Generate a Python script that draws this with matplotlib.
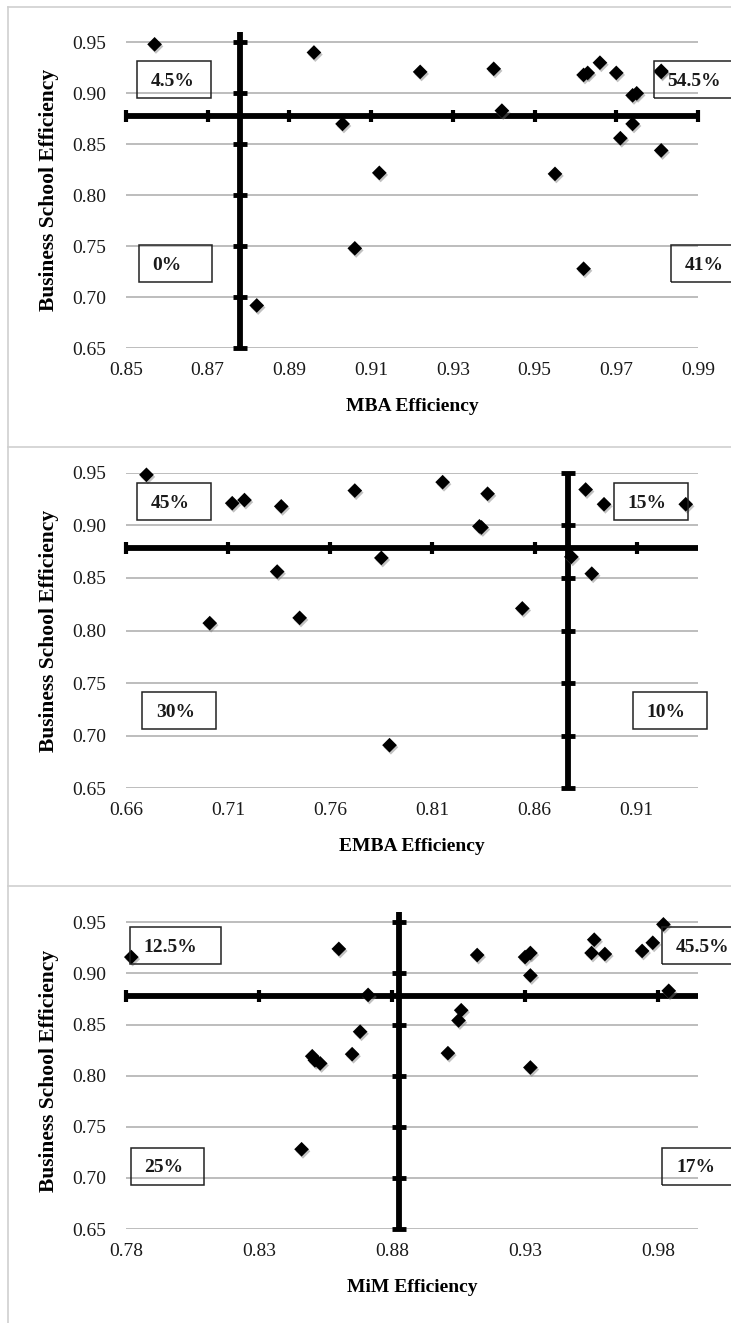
import numpy as np
import matplotlib
matplotlib.use('Agg')
import matplotlib.pyplot as plt
from matplotlib.patches import Rectangle
from matplotlib.lines import Line2D
import matplotlib.patheffects as pe

plt.rcParams['font.family'] = ['Liberation Serif', 'DejaVu Serif']

# --- data ---
mba_eff = [0.857, 0.896, 0.922, 0.940, 0.942, 0.962, 0.963, 0.966, 0.970, 0.974, 0.975,
           0.981, 0.981, 0.903, 0.912, 0.955, 0.974, 0.971, 0.981, 0.906, 0.962, 0.882]
bs_eff_mba = [0.948, 0.940, 0.921, 0.924, 0.883, 0.918, 0.920, 0.930, 0.920, 0.898, 0.900,
              0.921, 0.922, 0.870, 0.822, 0.821, 0.870, 0.856, 0.844, 0.748, 0.728, 0.692]

emba_eff = [0.670, 0.712, 0.718, 0.736, 0.772, 0.815, 0.837, 0.834, 0.833, 0.885,
            0.894, 0.934, 0.734, 0.701, 0.745, 0.785, 0.854, 0.789, 0.878, 0.888]
bs_eff_emba = [0.948, 0.921, 0.924, 0.918, 0.933, 0.941, 0.930, 0.898, 0.899, 0.934,
               0.920, 0.920, 0.856, 0.807, 0.812, 0.869, 0.821, 0.691, 0.870, 0.854]

mim_eff = [0.782, 0.860, 0.871, 0.912, 0.930, 0.932, 0.932, 0.956, 0.955, 0.960, 0.974, 0.978,
           0.982, 0.984, 0.868, 0.865, 0.850, 0.853, 0.851, 0.846, 0.901, 0.905, 0.906, 0.932]
bs_eff_mim = [0.916, 0.924, 0.879, 0.918, 0.916, 0.920, 0.898, 0.933, 0.920, 0.919, 0.922, 0.930,
              0.948, 0.883, 0.843, 0.821, 0.819, 0.812, 0.815, 0.728, 0.822, 0.854, 0.864, 0.808]

# means (cross-hair lines)
bs_mean = 0.878
mba_mean = 0.878
emba_mean = 0.8764
mim_mean = 0.8826

# quadrant shares: upper left, upper right, lower left, lower right
mba_quad = ['4.5%', '54.5%', '0%', '41%']
emba_quad = ['45%', '15%', '30%', '10%']
mim_quad = ['12.5%', '45.5%', '25%', '17%']

x_titles = ['MBA Efficiency', 'EMBA Efficiency', 'MiM Efficiency']
y_title = 'Business School Efficiency'

W, H = 731, 1323
fig = plt.figure(figsize=(W / 100, H / 100), dpi=100)


def fx(px):
    return px / W


def fy(py):
    return 1 - py / H


def add_panel(top, bottom):
    return fig.add_axes([fx(126), fy(bottom), 572 / W, (bottom - top) / H])


def draw(ax, x, y, xm, ym, xlim, xstep, ytop, xlab, h_px):
    ax.set_xlim(xlim)
    ax.set_ylim(0.65, ytop)
    xt = np.round(np.arange(xlim[0], xlim[1] + 1e-6, xstep), 2)
    yt = np.round(np.arange(0.65, 0.951, 0.05), 2)
    ax.set_xticks(xt)
    ax.set_yticks(yt)
    ax.set_xticklabels(['%.2f' % v for v in xt])
    ax.set_yticklabels(['%.2f' % v for v in yt])
    ax.yaxis.grid(True, color='#ababab', lw=1.1)
    ax.set_axisbelow(True)
    for s in ax.spines.values():
        s.set_visible(False)
    ax.tick_params(axis='both', length=0, labelsize=14, colors='#1a1a1a')
    ax.tick_params(axis='x', pad=10)
    ax.tick_params(axis='y', pad=14)

    # cross-hair at the means, with tick marks
    ax.plot(xlim, [ym, ym], color='k', lw=4.2, solid_capstyle='butt', zorder=3, clip_on=False)
    ax.plot(xt, [ym] * len(xt), ls='none', marker='|', ms=8.5, mew=3, color='k',
            zorder=3, clip_on=False)
    ax.plot([xm, xm], [0.65, ytop], color='k', lw=4.2, solid_capstyle='butt', zorder=3,
            clip_on=False)
    ax.plot([xm] * len(yt), yt, ls='none', marker='_', ms=9.5, mew=3.5, color='k',
            zorder=3, clip_on=False)

    ax.scatter(x, y, marker='D', s=56, c='k', zorder=5, clip_on=False, linewidths=0,
               path_effects=[pe.SimplePatchShadow(offset=(1, -1.5), shadow_rgbFace='#777777',
                                                  alpha=0.45), pe.Normal()])

    ax.set_xlabel(xlab, fontsize=14, fontweight='bold', va='center')
    ax.xaxis.set_label_coords(0.5, -58 / h_px)
    ax.set_ylabel(y_title, fontsize=15.5, fontweight='bold', va='center')
    ax.yaxis.set_label_coords((49 - 126) / 572, 0.5)


def box(label, left, top, w=74, h=37):
    fig.add_artist(Rectangle((fx(left), fy(top + h)), w / W, h / H, transform=fig.transFigure,
                             fill=False, ec='#222222', lw=1.1, zorder=4))
    fig.text(fx(left + 14), fy(top + h / 2 + 1.5), label, fontsize=14, fontweight='bold',
             ha='left', va='center', color='#1a1a1a', zorder=4.5)


ax1 = add_panel(32.1, 348.3)
draw(ax1, mba_eff, bs_eff_mba, mba_mean, bs_mean, (0.85, 0.99), 0.02, 0.96, x_titles[0], 316.2)
ax2 = add_panel(472.7, 788.3)
draw(ax2, emba_eff, bs_eff_emba, emba_mean, bs_mean, (0.66, 0.94), 0.05, 0.95, x_titles[1], 315.6)
ax3 = add_panel(912.1, 1229)
draw(ax3, mim_eff, bs_eff_mim, mim_mean, bs_mean, (0.78, 0.995), 0.05, 0.96, x_titles[2], 316.9)

# quadrant boxes
box(mba_quad[0], 136.6, 61.3)
box(mba_quad[1], 653.6, 61.3, w=91)
box(mba_quad[2], 138.5, 245)
box(mba_quad[3], 671, 245)
box(emba_quad[0], 136.6, 483.3)
box(emba_quad[1], 613.5, 483.3)
box(emba_quad[2], 142.2, 692.3)
box(emba_quad[3], 632.6, 692.3)
box(mim_quad[0], 129.6, 927.3, w=91)
box(mim_quad[1], 662, 927.3, w=91)
box(mim_quad[2], 130.5, 1147.7)
box(mim_quad[3], 662, 1147.7)

# chart frames
for yy in [7, 446.7, 885.7]:
    fig.add_artist(Line2D([fx(8), 1], [fy(yy), fy(yy)], transform=fig.transFigure,
                          color='#cfcfcf', lw=1.2))
fig.add_artist(Line2D([fx(8), fx(8)], [fy(7), 0], transform=fig.transFigure,
                      color='#cfcfcf', lw=1.2))

fig.savefig('out.png', dpi=100, facecolor='white')
